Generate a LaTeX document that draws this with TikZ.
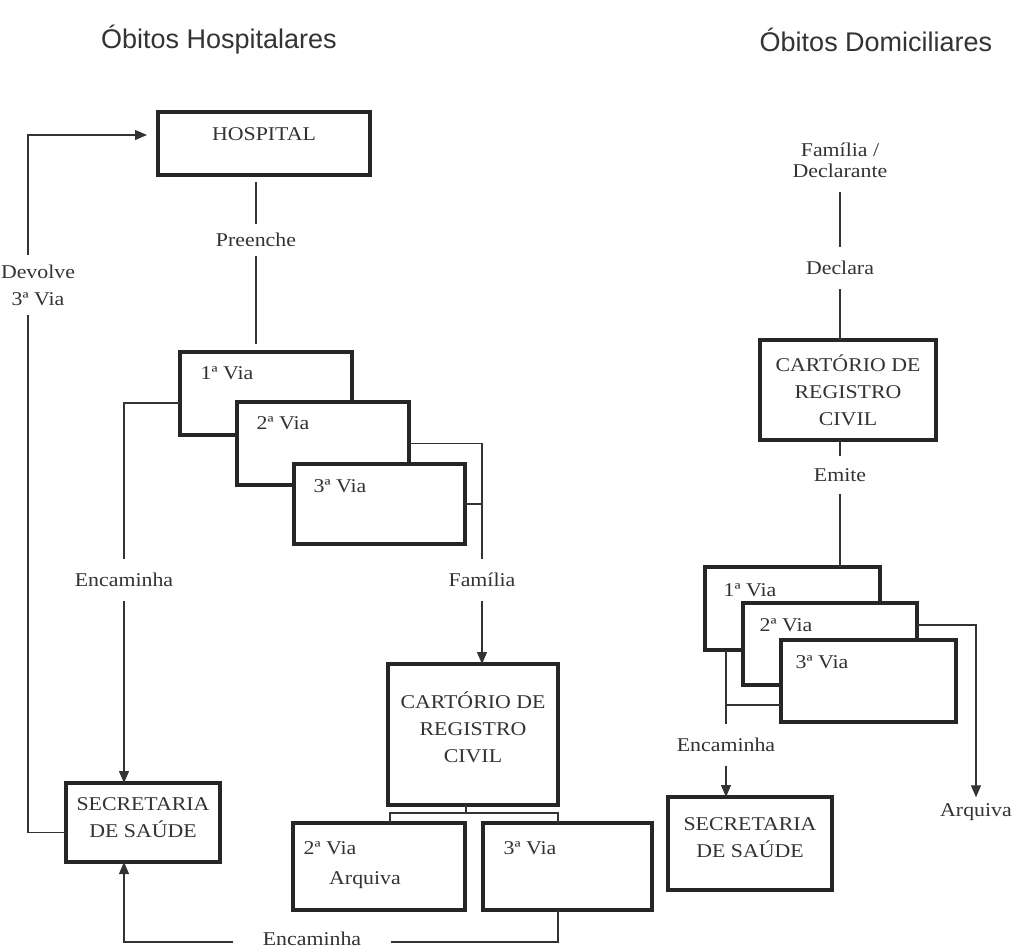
\documentclass[tikz,border=0pt]{standalone}
\usepackage{fontspec}
\setmainfont{Liberation Serif}[FakeStretch=1.12]
\newfontfamily\titlefont{Liberation Sans}
\usetikzlibrary{arrows.meta}
\begin{document}
\begin{tikzpicture}[x=1pt,y=-1pt,
  box/.style={draw=black!85, line width=3.8pt, fill=white, rectangle, inner sep=0pt, outer sep=0pt},
  txt/.style={font=\fontsize{19.5}{27}\selectfont, text=black!80, align=center, inner sep=2pt},
  onl/.style={txt, inner xsep=2pt, inner ysep=12pt},
  ttl/.style={font=\titlefont\fontsize{27}{30}\selectfont, text=black!80, inner sep=0pt},
  conn/.style={draw=black!80, line width=1.1pt},
  arr/.style={conn, -{Triangle[length=12pt,width=10pt]}},
]
\useasboundingbox (0,0) rectangle (1013,951);

% titles
\node[ttl] (t1) at (219,40) {Óbitos Hospitalares};
\node[ttl] (t2) at (876,40) {Óbitos Domiciliares};

% ---------------- left column ----------------
\node[box, minimum width=212pt, minimum height=63pt] (hosp) at (264,143.5) {};
\node[txt] (hospt) at (264,134) {HOSPITAL};
\node[onl, inner ysep=9pt] (pre) at (256,240) {Preenche};
\node[txt] (dev) at (38,285) {Devolve\\3ª Via};

\node[box, minimum width=172pt, minimum height=83pt] (v1L) at (266,393.5) {};
\node[txt] (v1Lt) at (227,373) {1ª Via};
\node[box, minimum width=172pt, minimum height=83pt] (v2L) at (323,443.5) {};
\node[txt] (v2Lt) at (283,423) {2ª Via};
\node[box, minimum width=171pt, minimum height=80pt] (v3L) at (379.5,504) {};
\node[txt] (v3Lt) at (340,486) {3ª Via};

\node[onl, inner ysep=14pt] (encL) at (124,580) {Encaminha};
\node[onl, inner ysep=14pt] (fam) at (482,580) {Família};

\node[box, minimum width=170pt, minimum height=141pt] (cartL) at (473,734.5) {};
\node[txt] (cartLt) at (473,727) {CARTÓRIO DE\\REGISTRO\\CIVIL};

\node[box, minimum width=154pt, minimum height=79pt] (secL) at (143,822.5) {};
\node[txt] (secLt) at (143,818) {SECRETARIA\\DE SAÚDE};

\node[box, minimum width=172pt, minimum height=87pt] (arqL) at (379,866.5) {};
\node[txt] (arqLa) at (330,848) {2ª Via};
\node[txt] (arqLb) at (365,880) {Arquiva};
\node[box, minimum width=169pt, minimum height=87pt] (v3b) at (567.5,866.5) {};
\node[txt] (v3bt) at (530,848) {3ª Via};
\node[txt, inner xsep=30pt] (encB) at (312,939) {Encaminha};

\coordinate (dvb) at (28,315);
\coordinate (dvt) at (28,255);
\coordinate (dvh) at (28,135);
\coordinate (jL) at (466,813);

\draw[conn] ([yshift=-10pt]secL.west) -| (dvb);
\draw[arr, shorten >=11pt] (dvt) -- (dvh) -- ([yshift=8.5pt]hosp.west);
\draw[conn, shorten <=7pt] ([xshift=-8pt]hosp.south) -- (pre.north);
\draw[conn, shorten >=8pt] (pre.south) -- ([xshift=-10pt]v1L.north);
\draw[conn] ([yshift=-9.5pt]v1L.west) -| (encL.north);
\draw[arr] (encL.south) -- (encL.south |- secL.north);
\draw[conn] (v2L.east) -| (fam.north);
\draw[conn] (v3L.east) -- (v3L.east -| fam.north);
\draw[arr] (fam.south) -- (fam.south |- cartL.north);
\draw[conn] (cartL.south -| jL) -- (jL);
\draw[conn] ([xshift=11pt]arqL.north) |- (jL) -| ([xshift=-9.5pt]v3b.north);
\draw[conn] ([xshift=-9.5pt]v3b.south) |- ([yshift=-3pt]encB.east);
\draw[arr] ([yshift=-3pt]encB.west) -| (encL.south |- secL.south);

% ---------------- right column ----------------
\node[txt, font=\fontsize{19.5}{21}\selectfont, inner ysep=14pt] (famR) at (840,160) {Família /\\Declarante};
\node[onl, inner ysep=14pt] (decl) at (840,268) {Declara};
\node[box, minimum width=176pt, minimum height=100pt] (cartR) at (848,390) {};
\node[txt] (cartRt) at (848,390) {CARTÓRIO DE\\REGISTRO\\CIVIL};
\node[onl, inner ysep=12pt] (emite) at (840,475) {Emite};

\node[box, minimum width=175pt, minimum height=83pt] (v1R) at (792.5,608.5) {};
\node[txt] (v1Rt) at (750,590) {1ª Via};
\node[box, minimum width=174pt, minimum height=82pt] (v2R) at (830,644) {};
\node[txt] (v2Rt) at (786,625) {2ª Via};
\node[box, minimum width=175pt, minimum height=82pt] (v3R) at (868.5,681) {};
\node[txt] (v3Rt) at (822,662) {3ª Via};

\node[onl, inner ysep=14pt] (encR) at (726,745) {Encaminha};
\node[onl, inner ysep=6pt] (arqR) at (976,812) {Arquiva};
\node[box, minimum width=164pt, minimum height=93pt] (secR) at (750,843.5) {};
\node[txt] (secRt) at (750,838) {SECRETARIA\\DE SAÚDE};

\draw[conn] (famR.south) -- (decl.north);
\draw[conn] (decl.south) -- (decl.south |- cartR.north);
\draw[conn] (cartR.south -| emite) -- (emite.north);
\draw[conn] (emite.south) -- (emite.south |- v1R.north);
\draw[conn] (v1R.south -| encR) -- (encR.north);
\draw[conn] ([yshift=-24pt]v3R.west) -- ([yshift=-24pt]v3R.west -| encR);
\draw[arr] (encR.south) -- (encR.south |- secR.north);
\draw[arr] ([yshift=19pt]v2R.east) -| (arqR.north);
\end{tikzpicture}
\end{document}
